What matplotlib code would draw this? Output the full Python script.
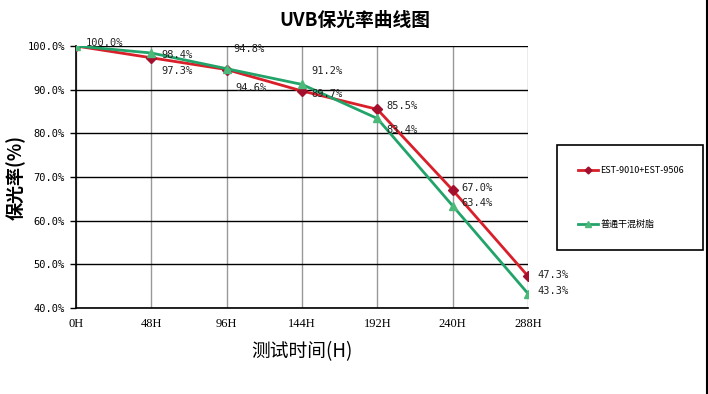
import matplotlib
matplotlib.use("Agg")
import matplotlib.pyplot as plt
from matplotlib.lines import Line2D

plt.rcParams['font.family'] = ['Noto Sans CJK SC', 'DejaVu Sans']

# data
hours = [0, 48, 96, 144, 192, 240, 288]
hour_labels = ['0H', '48H', '96H', '144H', '192H', '240H', '288H']
est_vals = [100.0, 97.3, 94.6, 89.7, 85.5, 67.0, 47.3]
resin_vals = [100.0, 98.4, 94.8, 91.2, 83.4, 63.4, 43.3]
est_name = 'EST-9010+EST-9506'
resin_name = '普通干混树脂'

red = '#d81f2a'
red_mk = '#a3102e'
green = '#22a36a'
green_mk = '#4cb87a'

fig = plt.figure(figsize=(7.08, 3.94), dpi=100)
fig.patch.set_facecolor('white')
ax = fig.add_axes([76/708, 1 - 308/394, 452/708, 262/394])

ax.plot(hours, est_vals, color=red, lw=2, marker='D', ms=5,
        mfc=red_mk, mec=red_mk, zorder=3, label=est_name)
ax.plot(hours, resin_vals, color=green, lw=2, marker='^', ms=6,
        mfc=green_mk, mec=green_mk, zorder=4, label=resin_name)

# label offsets in pixels (dx, dy), dy positive = up
est_off = [(10, 3), (10, -13), (9, -18), (9, -3), (9, 3), (9, 2), (9, 1)]
resin_off = [(None, None), (10, -2), (7, 20), (9, 13), (9, -12), (9, 3), (9, 3)]

def lab(x, y, off):
    dx, dy = off
    ax.annotate('%.1f%%' % y, (x, y), xytext=(dx * 0.72, dy * 0.72),
                textcoords='offset points', fontsize=7.5,
                family='DejaVu Sans Mono', color='#222222',
                va='center', ha='left', zorder=5)

for i in range(len(hours)):
    lab(hours[i], est_vals[i], est_off[i])
    if resin_off[i][0] is not None:
        lab(hours[i], resin_vals[i], resin_off[i])

ax.set_xlim(0, 288)
ax.set_ylim(40, 100)
ax.set_xticks(hours)
ax.set_xticklabels(hour_labels, family='Liberation Serif', fontsize=9)
ax.set_yticks(range(40, 101, 10))
ax.set_yticklabels(['%.1f%%' % v for v in range(40, 101, 10)],
                   family='DejaVu Sans Mono', fontsize=7.5)
ax.tick_params(axis='x', length=0, pad=7)
ax.tick_params(axis='y', length=4, width=1, pad=4)

ax.grid(axis='y', color='black', lw=1)
ax.grid(axis='x', color='#999999', lw=1)
ax.set_axisbelow(True)
for s in ['top', 'right']:
    ax.spines[s].set_visible(False)
for s in ['left', 'bottom']:
    ax.spines[s].set_color('black')
    ax.spines[s].set_linewidth(1.2)

fig.text(355/708, 1 - 20/394, 'UVB保光率曲线图', ha='center', va='center',
         fontsize=13.5, weight='bold')
ax.set_ylabel('保光率(%)', fontsize=13, weight='bold')
ax.yaxis.set_label_coords(-0.112, 0.5)
ax.set_xlabel('测试时间(H)', fontsize=13.5, labelpad=8)

# legend box
handles = [Line2D([], [], color=red, lw=2, marker='D', ms=3.5, mfc=red_mk, mec=red_mk),
           Line2D([], [], color=green, lw=2, marker='^', ms=4.5, mfc=green_mk, mec=green_mk)]
leg = fig.legend(handles, [est_name, resin_name], loc='upper left',
                 bbox_to_anchor=(557/708, 1 - 249/394, 146/708, 104/394),
                 mode='expand', fontsize=6.5, labelspacing=5.0, handlelength=2.2,
                 handletextpad=0.3, borderpad=2.3, borderaxespad=0, fancybox=False,
                 edgecolor='black', framealpha=1)
leg.get_frame().set_linewidth(1.2)

# right border of the chart area
fig.add_artist(Line2D([706.5/708, 706.5/708], [0, 1], color='black', lw=1.5,
                      transform=fig.transFigure))

fig.savefig('out.png', dpi=100)
